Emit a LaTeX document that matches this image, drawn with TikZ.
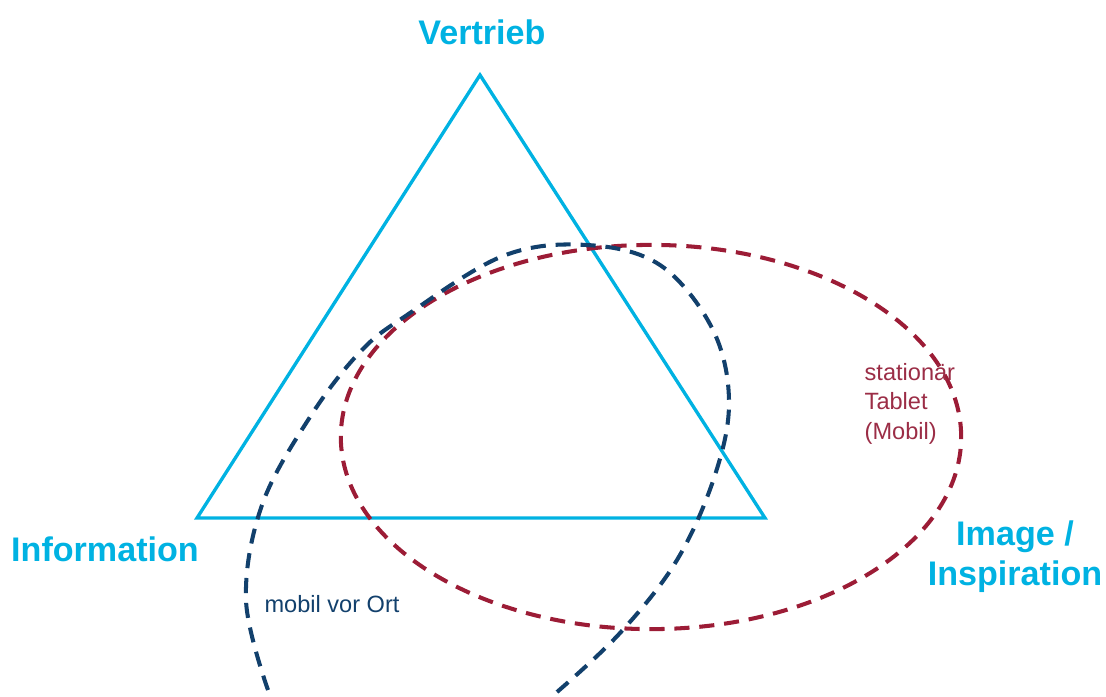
\documentclass[tikz,border=0pt]{standalone}
\usepackage{fontspec}
\setmainfont{Liberation Sans}
\definecolor{hellblau}{RGB}{0,178,226}
\definecolor{dunkelblau}{RGB}{18,64,108}
\definecolor{weinrot}{RGB}{156,28,54}
\definecolor{textrot}{RGB}{155,45,70}
\tikzset{
  ecke/.style={font=\bfseries\fontsize{9.7}{11.4}\selectfont, text=hellblau, align=center, inner sep=0pt},
  notiz/.style={font=\fontsize{6.7}{8.3}\selectfont, inner sep=0pt},
  dreieck/.style={draw=hellblau, line width=0.95pt, line join=miter},
  strich/.style={line width=1.15pt, dash pattern=on 4.3pt off 2.8pt}
}

\begin{document}
\begin{tikzpicture}[x=0.01cm, y=-0.01cm]
\useasboundingbox (0,0) rectangle (1106,696);
% Ecken des Dreiecks
\coordinate (oben) at (480,75);
\coordinate (links) at (197,518);
\coordinate (rechts) at (765,518);
\draw[dreieck] (oben) -- (links) -- (rechts) -- cycle;

% Beschriftung der Ecken
\node[ecke] (vertrieb) at (482,32) {Vertrieb};
\node[ecke] (information) at (105,549) {Information};
\node[ecke] (image) at (1015,557) {Image /\\Inspiration};

% stationaer: Ellipse
\draw[strich, weinrot] (651,437) ellipse (3.10cm and 1.92cm);
\node[notiz, text=textrot, align=left, anchor=north west] (stationaer) at (864,363) {station\"ar\\Tablet\\(Mobil)};

% mobil: offene Kurve
\draw[strich, dunkelblau] plot[smooth, tension=0.6] coordinates {
  (268,690) (246,600) (262,505) (310,417) (360,352) (407,315) (503,256) (587,245)
  (660,265) (712,328) (729,400) (715,475) (677,560) (620,633) (557,692)};
\node[notiz, text=dunkelblau] (mobil) at (332,604) {mobil vor Ort};
\end{tikzpicture}
\end{document}
